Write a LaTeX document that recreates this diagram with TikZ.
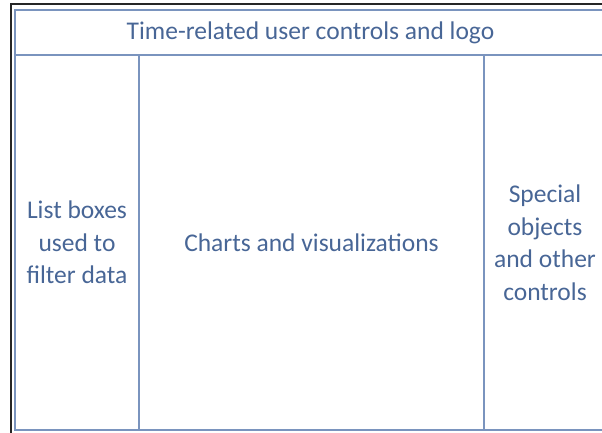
\documentclass[tikz,border=0pt]{standalone}
\usepackage{fontspec}
\setmainfont{Carlito}
\definecolor{panelline}{RGB}{122,148,190}
\definecolor{paneltext}{RGB}{72,102,150}
\begin{document}
\begin{tikzpicture}[
    x=1pt, y=-1pt,
    panel/.style={rectangle, draw=panelline, line width=2.2pt, inner sep=0pt, align=center,
                  text=paneltext, font=\fontsize{25.5}{32.5}\selectfont},
    frameline/.style={line width=2.6pt, black!85}
]
\useasboundingbox (0,0) rectangle (602,432);
\clip (0,0) rectangle (602,432);

% Header strip
\node[panel, minimum width=591pt, minimum height=45pt] (header) at (310.5, 32.5) {Time-related user controls and logo};

% Three columns below
\node[panel, minimum width=124pt, minimum height=375pt] (listbox) at (77, 242.5) {List boxes\\used to\\filter data};
\node[panel, minimum width=345pt, minimum height=375pt] (charts) at (311.5, 242.5) {Charts and visualizations};
\node[panel, minimum width=122pt, minimum height=375pt] (special) at (545, 242.5) {Special\\objects\\and other\\controls};

% Outer black frame
\coordinate (fbl) at (11, 440);
\coordinate (ftl) at (11, 4);
\coordinate (ftr) at (610, 4);
\draw[frameline] (fbl) -- (ftl) -- (ftr);

\end{tikzpicture}
\end{document}
